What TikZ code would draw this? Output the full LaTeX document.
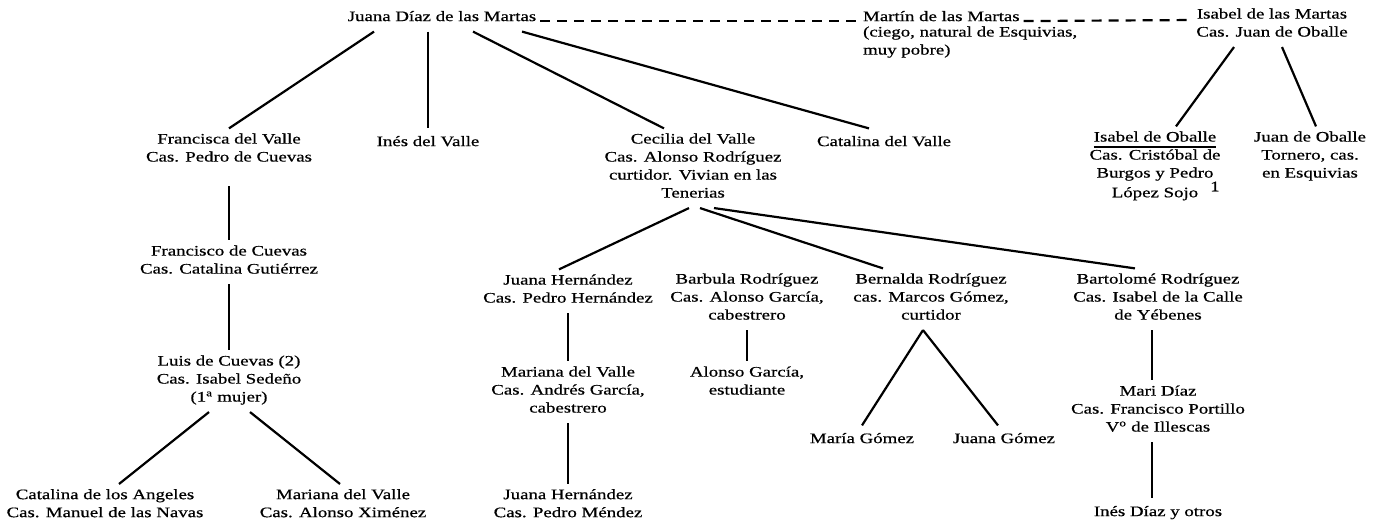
\documentclass[tikz,border=0pt]{standalone}
\usepackage{fontspec}
\setmainfont{Liberation Serif}[FakeStretch=1.3,FakeBold=0.6]
\newcommand\ulthick[1]{\setbox0\hbox{#1}\rlap{\rule[-6pt]{\wd0}{1.8pt}}\box0}
\begin{document}
\begin{tikzpicture}[x=1pt,y=-1pt,line width=2.2pt,
  person/.style={align=center,anchor=north,inner xsep=0pt,inner ysep=4pt,
    font=\fontsize{14.5pt}{18pt}\selectfont,
    execute at begin node=\strut,execute at end node=\strut},
  tie/.style={dash pattern=on 10pt off 7pt,shorten <=3pt,shorten >=4pt}]
\useasboundingbox (0,0) rectangle (1382,521);
\node[person] (jdm) at (442,3.4) {Juana Díaz de las Martas};
\node[person,anchor=north west] (mdm) at (862,3.4) {Martín de las Martas};
\node[person,anchor=north west,align=left] (mdmnote) at (862,21.4) {(ciego, natural de Esquivias,\\muy pobre)};
\node[person] (idm) at (1272,3.4) {Isabel de las Martas\\Cas. Juan de Oballe};
\node[person] (fdv) at (229,128.4) {Francisca del Valle\\Cas. Pedro de Cuevas};
\node[person] (idv) at (428,128.4) {Inés del Valle};
\node[person] (cdv) at (693,128.4) {Cecilia del Valle\\Cas. Alonso Rodríguez\\curtidor. Vivian en las\\Tenerias};
\node[person] (cadv) at (884,128.4) {Catalina del Valle};
\node[person] (ido) at (1155,126.4) {\ulthick{Isabel de Oballe}\\Cas. Cristóbal de\\Burgos y Pedro\\López Sojo\rlap{\hspace{12pt}\raisebox{6pt}{1}}};
\node[person] (jdo) at (1310,126.4) {Juan de Oballe\\Tornero, cas.\\en Esquivias};
\node[person] (fdc) at (229,240.4) {Francisco de Cuevas\\Cas. Catalina Gutiérrez};
\node[person] (ldc) at (229,350.4) {Luis de Cuevas (2)\\Cas. Isabel Sedeño\\(1\textsuperscript{a} mujer)};
\node[person] (cla) at (105,484) {Catalina de los Angeles\\Cas. Manuel de las Navas};
\node[person] (mvx) at (343,484) {Mariana del Valle\\Cas. Alonso Ximénez};
\node[person] (jhh) at (568,269.4) {Juana Hernández\\Cas. Pedro Hernández};
\node[person] (mva) at (568,361.4) {Mariana del Valle\\Cas. Andrés García,\\cabestrero};
\node[person] (jhm) at (568,484) {Juana Hernández\\Cas. Pedro Méndez};
\node[person] (brd) at (747,268.4) {Barbula Rodríguez\\Cas. Alonso García,\\cabestrero};
\node[person] (agc) at (747,361.4) {Alonso García,\\estudiante};
\node[person] (bnr) at (931,268.4) {Bernalda Rodríguez\\cas. Marcos Gómez,\\curtidor};
\node[person] (mgo) at (862,425.4) {María Gómez};
\node[person] (jgo) at (1004,425.4) {Juana Gómez};
\node[person] (btr) at (1158,268.4) {Bartolomé Rodríguez\\Cas. Isabel de la Calle\\de Yébenes};
\node[person] (mdz) at (1158,380.4) {Mari Díaz\\Cas. Francisco Portillo\\V\textsuperscript{o} de Illescas};
\node[person] (idz) at (1158,498.4) {Inés Díaz y otros};
\draw[tie] (jdm.base east) -- (mdm.base west);
\draw[tie] (mdm.base east) -- ([yshift=-16.6pt]idm.north west);
\draw ([xshift=-68pt]jdm.south) -- (fdv.north);
\draw ([xshift=-14pt]jdm.south) -- (idv.north);
\draw ([xshift=31pt]jdm.south) -- ([xshift=-29pt]cdv.north);
\draw ([xshift=80pt]jdm.south) -- ([xshift=-15pt]cadv.north);
\draw ([xshift=-38pt]idm.south) -- ([xshift=21pt]ido.north);
\draw ([xshift=10pt]idm.south) -- ([xshift=6pt]jdo.north);
\draw ([yshift=-14pt]fdv.south) -- (fdc.north);
\draw (fdc.south) -- (ldc.north);
\draw ([xshift=-20pt]ldc.south) -- ([xshift=14pt]cla.north);
\draw ([xshift=21pt]ldc.south) -- ([xshift=-3pt]mvx.north);
\draw ([xshift=-4pt]cdv.south) -- ([xshift=-9pt]jhh.north);
\draw ([xshift=7pt]cdv.south) -- ([xshift=-48pt]bnr.north);
\draw ([xshift=21pt]cdv.south) -- ([xshift=-23pt]btr.north);
\draw (jhh.south) -- (mva.north);
\draw (mva.south) -- (jhm.north);
\draw (brd.south) -- (agc.north);
\draw ([xshift=-8pt]bnr.south) -- (mgo.north);
\draw ([xshift=-8pt]bnr.south) -- ([xshift=-6pt]jgo.north);
\draw ([xshift=-6pt]btr.south) -- ([xshift=-6pt]mdz.north);
\draw ([xshift=-6pt]mdz.south) -- ([xshift=-6pt]idz.north);
\end{tikzpicture}
\end{document}
